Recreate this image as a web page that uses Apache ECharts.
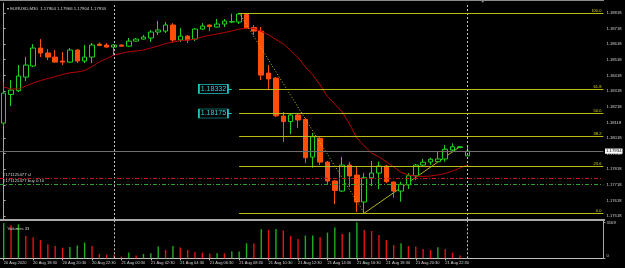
<!DOCTYPE html>
<html><head><meta charset="utf-8">
<script src="https://cdn.jsdelivr.net/npm/echarts@6/dist/echarts.min.js"></script>
<style>html,body{margin:0;padding:0;background:#000;}#c{width:625px;height:268px;}</style>
</head><body><div id="c"></div>
<script>
// ---------- data ----------
const symbolName = 'EURUSD,M30';
const headerOHLC = ['1.17904', '1.17966', '1.17904', '1.17934'];

const opens = [1.18113,1.18296,1.18320,1.18407,1.18478,1.18593,1.18561,1.18535,1.18510,1.18503,
  1.18580,1.18510,1.18535,1.18618,1.18612,1.18599,1.18612,1.18605,1.18637,1.18650,
  1.18657,1.18695,1.18701,1.18740,1.18644,1.18669,1.18650,1.18714,1.18740,1.18727,
  1.18746,1.18759,1.18759,1.18807,1.18724,1.18701,1.18433,1.18401,1.18158,1.18123,
  1.18165,1.18136,1.17896,1.18016,1.17864,1.17743,1.17679,1.17845,1.17781,1.17609,
  1.17764,1.17794,1.17839,1.17737,1.17679,1.17718,1.17777,1.17845,1.17865,1.17867,
  1.17884,1.17941,1.17957,1.17904];
const highs = [1.18375,1.18388,1.18484,1.18535,1.18618,1.18650,1.18586,1.18580,1.18567,1.18593,
  1.18586,1.18612,1.18625,1.18628,1.18625,1.18618,1.18615,1.18657,1.18657,1.18676,
  1.18708,1.18765,1.18759,1.18752,1.18720,1.18676,1.18720,1.18752,1.18743,1.18778,
  1.18778,1.18812,1.18817,1.18815,1.18740,1.18727,1.18484,1.18407,1.18184,1.18171,
  1.18171,1.18145,1.18050,1.18026,1.17871,1.17749,1.17896,1.17864,1.17839,1.17794,
  1.17871,1.17867,1.17845,1.17739,1.17739,1.17794,1.17852,1.17884,1.17892,1.17930,
  1.17973,1.17984,1.17967,1.17966];
const lows = [1.18094,1.18222,1.18312,1.18382,1.18471,1.18535,1.18516,1.18500,1.18484,1.18497,
  1.18497,1.18497,1.18497,1.18605,1.18596,1.18548,1.18602,1.18599,1.18634,1.18647,
  1.18631,1.18676,1.18689,1.18631,1.18631,1.18625,1.18637,1.18708,1.18701,1.18724,
  1.18727,1.18752,1.18746,1.18714,1.18676,1.18388,1.18324,1.18152,1.17992,1.18043,
  1.18081,1.17858,1.17828,1.17845,1.17717,1.17596,1.17674,1.17704,1.17545,1.17538,
  1.17711,1.17692,1.17730,1.17637,1.17611,1.17692,1.17750,1.17835,1.17845,1.17858,
  1.17867,1.17935,1.17954,1.17904];
const closes = [1.18305,1.18324,1.18414,1.18484,1.18593,1.18561,1.18535,1.18503,1.18503,1.18580,
  1.18510,1.18535,1.18612,1.18609,1.18599,1.18612,1.18605,1.18637,1.18650,1.18663,
  1.18695,1.18708,1.18740,1.18644,1.18669,1.18644,1.18714,1.18733,1.18730,1.18746,
  1.18765,1.18762,1.18810,1.18720,1.18701,1.18420,1.18395,1.18160,1.18123,1.18165,
  1.18133,1.17892,1.18026,1.17864,1.17743,1.17683,1.17845,1.17775,1.17609,1.17764,
  1.17794,1.17839,1.17739,1.17679,1.17722,1.17777,1.17845,1.17863,1.17882,1.17884,
  1.17946,1.17962,1.17962,1.17934];
const maValues = [1.18344,1.18331,1.18331,1.18350,1.18369,1.18385,1.18398,1.18410,1.18424,1.18435,
  1.18440,1.18449,1.18475,1.18504,1.18526,1.18548,1.18559,1.18569,1.18574,1.18580,
  1.18593,1.18606,1.18621,1.18631,1.18640,1.18644,1.18649,1.18665,1.18674,1.18683,
  1.18692,1.18702,1.18714,1.18719,1.18718,1.18700,1.18676,1.18647,1.18619,1.18577,
  1.18532,1.18472,1.18421,1.18357,1.18283,1.18235,1.18184,1.18107,1.18018,1.17967,
  1.17922,1.17897,1.17865,1.17833,1.17798,1.17782,1.17775,1.17772,1.17775,1.17782,
  1.17791,1.17807,1.17826,1.17845];
const volumes = [3100,2930,2990,1990,1850,1610,1230,1080,940,995,
  1120,1380,1080,380,325,290,150,500,240,380,
  440,1030,730,1080,940,730,555,500,415,440,
  435,590,600,1320,1310,2550,2490,2580,2440,1960,
  1700,2000,2010,1850,2260,2700,2140,2290,3169,2490,
  2400,2050,1610,1170,1320,1080,1030,820,730,970,
  820,500,240,33];

const timeLabels = ['20 Aug 2020','20 Aug 18:30','20 Aug 20:30','20 Aug 22:30','21 Aug 00:30',
  '21 Aug 02:30','21 Aug 04:30','21 Aug 06:30','21 Aug 08:30','21 Aug 10:30','21 Aug 12:30',
  '21 Aug 14:30','21 Aug 16:30','21 Aug 18:30','21 Aug 20:30','21 Aug 22:30'];
const priceTicks = [1.18818,1.18718,1.18618,1.18518,1.18418,1.18318,1.18218,1.18118,
  1.18018,1.17918,1.17818,1.17718,1.17618,1.17518];
const volumeTicks = [0, 3169];

const fibRatios = [0, 23.6, 38.2, 50, 61.8, 100];
const fibStartBar = 32, fibEndBar = 49;
const fibHigh = 1.18817, fibLow = 1.17538;
const trendStart = [49, 1.17538], trendEnd = [62, 1.17962];
const bidPrice = 1.17934;
const slPrice = 1.17760, buyPrice = 1.17724;
const orderLabels = ['#171125477 sl', '#171125477 buy 0.10'];
const priceTags = [1.18332, 1.18175];
const priceTagBar = 28;
const daySeparators = [15, 63];
const volumeLabel = 'Volumes 33';

// ---------- categories (M30 bars, weekend gap before the last bar, plus empty future slots) ----------
const SLOTS = 82;
const categories = [];
for (let i = 0; i < SLOTS; i++) {
  const t = i < 63 ? Date.UTC(2020, 7, 20, 16, 30) + i * 1800000
                   : Date.UTC(2020, 7, 24, 0, 0) + (i - 63) * 1800000;
  categories.push(new Date(t).toISOString().slice(0, 16).replace('T', ' '));
}
const xLo = -0.5, xHi = SLOTS - 0.5;   // value-axis twin of the category band layout

// ---------- chart ----------
const FONT = 'Liberation Sans';
const TXT = '#d2d2d2';
const candleData = opens.map((o, i) => [o, closes[i], lows[i], highs[i]]);
const fibLevels = fibRatios.map(r => fibLow + (fibHigh - fibLow) * r / 100);
const tickInt = (idx) => idx % 4 === 0 && idx <= 60;

const fibLines = fibLevels.map((lv, k) => [
  { coord: [fibStartBar, lv], lineStyle: { color: '#bcbc14', width: 1, type: 'solid' },
    label: { show: true, position: 'insideEndTop', formatter: () => fibRatios[k].toFixed(1),
      color: '#d8d818', fontSize: 4, fontFamily: FONT, distance: [2, 0.3] } },
  { coord: [xHi, lv] }
]);
const hLine = (v, style, label) => [
  { coord: [xLo, v], lineStyle: style, label: label },
  { coord: [xHi, v] }
];

const option = {
  backgroundColor: '#000000',
  animation: false,
  title: [
    { text: '\u25BE ' + symbolName + '  ' + headerOHLC.join(' '), left: 2, top: 1.6,
      textStyle: { color: TXT, fontSize: 4.3, fontWeight: 'normal', fontFamily: FONT } },
    { text: volumeLabel, left: 2.5, top: 222, textStyle: { color: TXT, fontSize: 4.2, fontWeight: 'normal', fontFamily: FONT } }
  ],
  grid: [
    { left: -3.4, top: 3, width: 606.8, height: 216 },
    { left: -3.4, top: 221, width: 606.8, height: 37.3 }
  ],
  xAxis: [
    { type: 'category', gridIndex: 0, data: categories, boundaryGap: true,
      axisLine: { show: false }, axisTick: { show: false }, axisLabel: { show: false }, splitLine: { show: false } },
    { type: 'category', gridIndex: 1, data: categories, boundaryGap: true,
      axisLine: { show: true, lineStyle: { color: '#c0c0c0', width: 1 } },
      axisTick: { show: true, alignWithLabel: true, interval: tickInt, length: 2, lineStyle: { color: '#c0c0c0' } },
      axisLabel: { interval: tickInt, formatter: (v, i) => (i % 4 === 0 ? (timeLabels[i / 4] || '') : ''),
        align: 'left', margin: 2.6, color: TXT, fontSize: 4, fontFamily: FONT },
      splitLine: { show: false } },
    { type: 'value', gridIndex: 0, min: xLo, max: xHi, show: false, splitLine: { show: false } }
  ],
  yAxis: [
    { type: 'value', gridIndex: 0, position: 'right', min: 1.175004, max: 1.188806, scale: true,
      axisLine: { show: true, lineStyle: { color: '#a8a8a8' } },
      axisTick: { show: true, length: 2, customValues: priceTicks, lineStyle: { color: '#a8a8a8' } },
      axisLabel: { customValues: priceTicks, formatter: v => v.toFixed(5), color: TXT, fontSize: 4.2,
        fontFamily: FONT, margin: 3, padding: [3, 0, 0, 0] },
      splitLine: { show: false } },
    { type: 'value', gridIndex: 1, position: 'right', min: 0, max: 3283,
      axisLine: { show: true, lineStyle: { color: '#a8a8a8' } },
      axisTick: { show: true, length: 2, customValues: volumeTicks, lineStyle: { color: '#a8a8a8' } },
      axisLabel: { customValues: volumeTicks, formatter: v => (v === 0 ? '{lo|0}' : '{hi|' + v + '}'),
        color: TXT, fontSize: 4.2, fontFamily: FONT, margin: 3,
        rich: { lo: { padding: [0, 0, 5, 0], fontSize: 4.2, color: TXT, fontFamily: FONT },
                hi: { padding: [2, 0, 0, 0], fontSize: 4.2, color: TXT, fontFamily: FONT } } },
      splitLine: { show: false } }
  ],
  series: [
    { type: 'candlestick', name: 'price', xAxisIndex: 0, yAxisIndex: 0, data: candleData, barWidth: 5, z: 3,
      itemStyle: { color: '#000000', color0: '#ff4d0a', borderColor: '#1fd21f', borderColor0: '#ff4d0a', borderWidth: 1 } },
    { type: 'line', name: 'MA', xAxisIndex: 0, yAxisIndex: 0, data: maValues, symbol: 'none', z: 4,
      lineStyle: { color: '#b80000', width: 1 },
      markLine: {
        silent: true, symbol: ['none', 'none'], animation: false, label: { show: false },
        data: [
          [ { coord: [fibStartBar, fibHigh], lineStyle: { color: '#c8c81a', width: 1, type: [1, 2] } },
            { coord: [fibEndBar, fibLow] } ],
          ...priceTags.map(p => [ { coord: [priceTagBar + 2, p], lineStyle: { color: '#1cc8c8', width: 1, type: 'solid' } },
            { coord: [priceTagBar + 3, p] } ]),
          ...daySeparators.map(b => ({ xAxis: b, lineStyle: { color: '#c4c4c4', width: 1, type: [2, 2] } }))
        ]
      },
      markPoint: {
        silent: true, animation: false,
        data: priceTags.map(p => ({
          coord: [priceTagBar, p], symbol: 'rect', symbolSize: [29, 9], symbolOffset: [3.7, 0],
          itemStyle: { color: '#000000', borderColor: '#1cc8c8', borderWidth: 1 },
          label: { show: true, position: 'inside', formatter: () => p.toFixed(5), color: '#2ad8d8',
            fontSize: 7, fontFamily: FONT }
        }))
      }
    },
    { type: 'line', name: 'trend', xAxisIndex: 2, yAxisIndex: 0, data: [trendStart, trendEnd], symbol: 'none', z: 2,
      lineStyle: { color: '#b4b41e', width: 1 },
      markLine: {
        silent: true, symbol: ['none', 'none'], animation: false, label: { show: false },
        data: [
          ...fibLines,
          hLine(bidPrice, { color: '#6e6e6e', width: 1.2, type: 'solid' },
            { show: true, position: 'end', formatter: () => bidPrice.toFixed(5), backgroundColor: '#ffffff',
              color: '#000000', fontSize: 4.3, fontFamily: FONT, padding: [0.6, 1], distance: 1.6 }),
          hLine(slPrice, { color: '#c81414', width: 1, type: [4, 2, 1, 2] },
            { show: true, position: 'insideStartTop', formatter: () => orderLabels[0],
              color: TXT, fontSize: 4.3, fontFamily: FONT, distance: [3, 1.2] }),
          hLine(buyPrice, { color: '#2aa02a', width: 1, type: [4, 2, 1, 2] },
            { show: true, position: 'insideStartTop', formatter: () => orderLabels[1],
              color: TXT, fontSize: 4.3, fontFamily: FONT, distance: [3, 1.2] })
        ]
      }
    },
    { type: 'bar', name: 'Volumes', xAxisIndex: 1, yAxisIndex: 1, data: volumes, barWidth: 1.4,
      itemStyle: { color: p => (p.dataIndex === 0 || volumes[p.dataIndex] > volumes[p.dataIndex - 1]) ? '#1fae1f' : '#e21414' },
      markLine: { silent: true, symbol: ['none', 'none'], animation: false, label: { show: false },
        data: daySeparators.map(b => ({ xAxis: b, lineStyle: { color: '#c4c4c4', width: 1, type: [2, 2] } })) } }
  ],
  graphic: [
    { type: 'line', shape: { x1: 0, y1: 0.5, x2: 604, y2: 0.5 }, style: { stroke: '#8c8c8c', lineWidth: 1 }, silent: true },
    { type: 'rect', shape: { x: 0, y: 219, width: 605, height: 2 }, style: { fill: '#a9a9a9' }, silent: true },
    { type: 'polygon', shape: { points: [[480.4, 0], [485, 0], [482.7, 2.8]] }, style: { fill: '#8a8a8a' }, silent: true }
  ]
};

const chart = echarts.init(document.getElementById('c'), null, { renderer: 'canvas' });
chart.setOption(option);
</script>
</body></html>
